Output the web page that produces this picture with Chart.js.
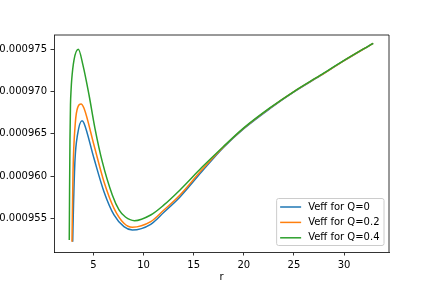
<!DOCTYPE html>
<html>
<head>
<meta charset="utf-8">
<script src="https://cdn.jsdelivr.net/npm/chart.js@4/dist/chart.umd.min.js"></script>
<style>
  html, body { margin: 0; padding: 0; background: #fff; }
  canvas { display: block; }
</style>
</head>
<body>
<canvas id="veff" width="432" height="288"></canvas>
<script>
// values
const labelsLegend = ['Veff for Q=0', 'Veff for Q=0.2', 'Veff for Q=0.4'];

const rQ0 = [2.94, 3.02, 3.17, 3.42, 3.87, 4.07, 5.06, 6.06, 7.06, 8.05, 8.88, 10.72, 12.04, 13.64, 15.8, 17.95, 20, 22.63, 25, 27.6, 30, 32.9];
const vQ0 = [0.00095223, 0.00095646, 0.0009619, 0.00096486, 0.00096655, 0.00096624, 0.0009621, 0.00095815, 0.00095539, 0.00095401, 0.00095362,
             0.00095429, 0.00095571, 0.00095752, 0.0009605, 0.00096335, 0.0009656, 0.000968, 0.00096995, 0.00097185, 0.00097365, 0.00097571];

const rQ02 = [2.87, 2.97, 3.20, 3.47, 3.77, 4.07, 5.06, 6.06, 7.06, 8.05, 8.88, 10.72, 12.04, 13.64, 15.8, 17.95, 20, 22.63, 25, 27.6, 30, 32.9];
const vQ02 = [0.00095223, 0.00096033, 0.00096624, 0.00096821, 0.00096853, 0.00096802, 0.00096368, 0.00095933, 0.00095618, 0.00095441, 0.00095394,
              0.0009546, 0.00095598, 0.00095776, 0.0009607, 0.0009634, 0.00096565, 0.00096805, 0.00096998, 0.00097187, 0.00097366, 0.00097571];

const rQ04 = [2.60, 2.63, 2.67, 2.72, 2.78, 2.84, 3.07, 3.50, 3.97, 4.57, 5.16, 5.89, 6.89, 7.56, 8.2, 9.1, 10.72, 12.04, 13.64, 15.8, 17.95, 20, 22.63, 25, 27.6, 30, 32.9];
const vQ04 = [0.00095243, 0.00095835, 0.00096427, 0.00096841, 0.00097018, 0.00097137, 0.00097373, 0.000975, 0.0009731, 0.00096959, 0.00096565, 0.0009617,
              0.00095776, 0.0009560, 0.00095515, 0.00095472, 0.00095539, 0.00095658, 0.00095835, 0.0009610, 0.00096347, 0.0009657, 0.00096809, 0.0009700,
              0.0009719, 0.00097368, 0.00097571];

const xTicks = [5, 10, 15, 20, 25, 30];
const yTicks = [0.000955, 0.00096, 0.000965, 0.00097, 0.000975];

const colors = ['#1f77b4', '#ff7f0e', '#2ca02c'];

function toPoints(xs, ys) {
    return xs.map((x, i) => ({x: x, y: ys[i]}));
}

// top and right spines, like matplotlib's box
const boxPlugin = {
    id: 'box',
    afterDraw(chart) {
        const {ctx, chartArea: a} = chart;
        ctx.save();
        ctx.strokeStyle = '#000';
        ctx.lineWidth = 0.8;
        ctx.beginPath();
        ctx.moveTo(a.left, a.top);
        ctx.lineTo(a.right, a.top);
        ctx.lineTo(a.right, a.bottom);
        ctx.stroke();
        ctx.restore();
    }
};

// legend in the lower right corner of the plot
const cornerLegend = {
    id: 'cornerLegend',
    afterDraw(chart) {
        const {ctx, chartArea: a} = chart;
        ctx.save();
        ctx.font = '10px "DejaVu Sans"';
        const textW = Math.max(...chart.data.datasets.map(d => ctx.measureText(d.label).width));
        const w = 4 + 20 + 8 + textW + 4;
        const h = 47;
        const right = a.right - 5;
        const bottom = a.bottom - 6.5;
        const left = right - w;
        const top = bottom - h;

        ctx.beginPath();
        ctx.roundRect(left, top, w, h, 2);
        ctx.fillStyle = 'rgba(255,255,255,0.8)';
        ctx.fill();
        ctx.strokeStyle = '#cccccc';
        ctx.lineWidth = 1;
        ctx.stroke();

        chart.data.datasets.forEach((d, i) => {
            const y = top + 8.5 + i * 15.4;
            ctx.strokeStyle = d.borderColor;
            ctx.lineWidth = 1.5;
            ctx.beginPath();
            ctx.moveTo(left + 3.5, y);
            ctx.lineTo(left + 24.5, y);
            ctx.stroke();
            ctx.fillStyle = '#000';
            ctx.textBaseline = 'middle';
            ctx.textAlign = 'left';
            ctx.fillText(d.label, left + 31.5, y);
        });
        ctx.restore();
    }
};

Chart.defaults.font.family = '"DejaVu Sans"';
Chart.defaults.font.size = 10;
Chart.defaults.color = '#000';

const series = [[rQ0, vQ0], [rQ02, vQ02], [rQ04, vQ04]];

new Chart(document.getElementById('veff').getContext('2d'), {
    type: 'line',
    data: {
        datasets: series.map((s, i) => ({
            label: labelsLegend[i],
            data: toPoints(s[0], s[1]),
            borderColor: colors[i],
            backgroundColor: colors[i],
            borderWidth: 1.5,
            pointRadius: 0,
            fill: false,
            cubicInterpolationMode: 'monotone',
            order: 3 - i
        }))
    },
    options: {
        responsive: false,
        devicePixelRatio: 1,
        animation: false,
        layout: { padding: { left: 0, top: 35, right: 43, bottom: 0 } },
        plugins: {
            legend: { display: false },
            tooltip: { enabled: false }
        },
        scales: {
            x: {
                type: 'linear',
                min: 1.077,
                max: 34.48,
                afterBuildTicks: scale => { scale.ticks = xTicks.map(v => ({value: v})); },
                afterFit: scale => { scale.height = 36; },
                grid: { drawOnChartArea: false, tickLength: 3.5, tickColor: '#000', tickWidth: 0.8 },
                border: { display: true, color: '#000', width: 0.8 },
                ticks: { padding: 3.5, maxRotation: 0, callback: v => String(v) },
                title: { display: true, text: 'r', padding: { top: 0, bottom: 5 } }
            },
            y: {
                type: 'linear',
                min: 0.00095101,
                max: 0.00097669,
                afterBuildTicks: scale => { scale.ticks = yTicks.map(v => ({value: v})); },
                afterFit: scale => { scale.width = 54; },
                grid: { drawOnChartArea: false, tickLength: 3.5, tickColor: '#000', tickWidth: 0.8 },
                border: { display: true, color: '#000', width: 0.8 },
                ticks: { padding: 3.5, callback: v => v.toFixed(6) }
            }
        }
    },
    plugins: [boxPlugin, cornerLegend]
});
</script>
</body>
</html>
